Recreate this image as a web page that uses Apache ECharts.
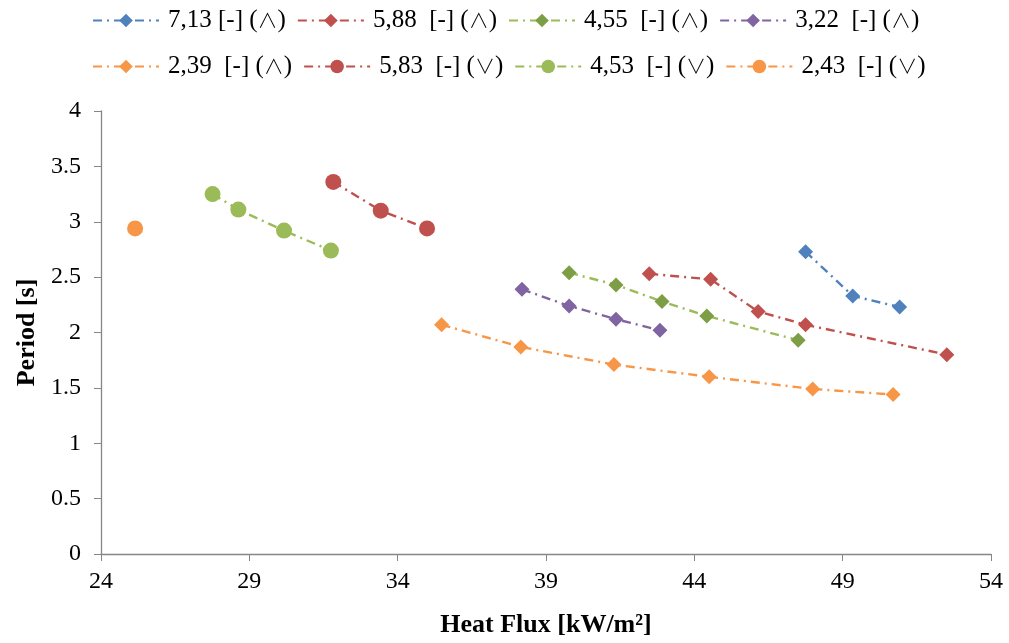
<!DOCTYPE html>
<html>
<head>
<meta charset="utf-8">
<script src="https://cdn.jsdelivr.net/npm/echarts@6/dist/echarts.min.js"></script>
<style>
html, body { margin: 0; padding: 0; background: #fff; }
#chart { width: 1009px; height: 643px; }
</style>
</head>
<body>
<div id="chart"></div>
<script>
// legend names
const names = [
    '7,13 [-] (\u2227)', '5,88  [-] (\u2227)', '4,55  [-] (\u2227)', '3,22  [-] (\u2227)',
    '2,39  [-] (\u2227)', '5,83  [-] (\u2228)', '4,53  [-] (\u2228)', '2,43  [-] (\u2228)'
];

// heat flux [kW/m2] / period [s]
const flux_713 = [47.75, 49.34, 50.92];
const period_713 = [2.73, 2.33, 2.23];

const flux_588 = [42.48, 44.55, 46.15, 47.75, 52.51];
const period_588 = [2.53, 2.48, 2.19, 2.07, 1.80];

const flux_455 = [39.78, 41.36, 42.91, 44.42, 47.50];
const period_455 = [2.54, 2.43, 2.28, 2.15, 1.93];

const flux_322 = [38.19, 39.78, 41.36, 42.84];
const period_322 = [2.39, 2.24, 2.12, 2.02];

const flux_239 = [35.48, 38.15, 41.29, 44.50, 47.99, 50.70];
const period_239 = [2.07, 1.87, 1.71, 1.60, 1.49, 1.44];

const flux_583 = [31.83, 33.43, 34.99];
const period_583 = [3.36, 3.10, 2.94];

const flux_453 = [27.76, 28.63, 30.17, 31.75];
const period_453 = [3.25, 3.11, 2.92, 2.74];

const flux_243 = [25.15];
const period_243 = [2.94];

const x_min = 24, x_max = 54, x_step = 5;
const y_min = 0, y_max = 4, y_step = 0.5;

const font = '"Liberation Serif", "DejaVu Serif", "Times New Roman", serif';
const symFont = '"Noto Sans CJK JP", "DejaVu Sans", sans-serif';
const dash = [9, 5, 2, 5];

const defs = [
    { x: flux_713, y: period_713, symbol: 'diamond', mark: '#4F81BD', line: '#4F81BD' },
    { x: flux_588, y: period_588, symbol: 'diamond', mark: '#C0504D', line: '#C0504D' },
    { x: flux_455, y: period_455, symbol: 'diamond', mark: '#7E9E46', line: '#9BBB59' },
    { x: flux_322, y: period_322, symbol: 'diamond', mark: '#8064A2', line: '#8064A2' },
    { x: flux_239, y: period_239, symbol: 'diamond', mark: '#F79646', line: '#F79646' },
    { x: flux_583, y: period_583, symbol: 'circle', mark: '#C0504D', line: '#C0504D' },
    { x: flux_453, y: period_453, symbol: 'circle', mark: '#9BBB59', line: '#9BBB59' },
    { x: flux_243, y: period_243, symbol: 'circle', mark: '#F79646', line: '#F79646' }
];

const series = defs.map((d, i) => ({
    name: names[i],
    type: 'line',
    data: d.x.map((v, k) => [v, d.y[k]]),
    symbol: d.symbol,
    symbolSize: d.symbol === 'circle' ? 16 : 15,
    itemStyle: { color: d.mark },
    lineStyle: { color: d.line, width: 2.4, type: dash },
    animation: false
}));

// split "(∧)" so the wedge can use a thinner font
const legendFormatter = function (name) {
    const k = name.lastIndexOf('(');
    const sym = name.charAt(k + 1);
    return '{t|' + name.slice(0, k + 1) + '}{s|' + sym + '}{t|)}';
};

const legendBase = {
    left: 92,
    padding: 0,
    itemWidth: 66,
    itemHeight: 17,
    itemGap: 11,
    formatter: legendFormatter,
    textStyle: {
        fontFamily: font, fontSize: 25, color: '#000', padding: [0, 0, 0, 4],
        rich: {
            t: { fontFamily: font, fontSize: 25, color: '#000' },
            s: { fontFamily: symFont, fontSize: 20, fontWeight: 300, color: '#000' }
        }
    }
};

const chart = echarts.init(document.getElementById('chart'));
chart.setOption({
    backgroundColor: '#fff',
    animation: false,
    legend: [
        Object.assign({}, legendBase, { top: 8, data: names.slice(0, 4) }),
        Object.assign({}, legendBase, { top: 54, data: names.slice(4) })
    ],
    grid: { left: 101, right: 18, top: 111, bottom: 88 },
    xAxis: {
        type: 'value',
        min: x_min, max: x_max, interval: x_step,
        name: 'Heat Flux [kW/m\u00B2]',
        nameLocation: 'middle',
        nameGap: 58,
        nameTextStyle: { fontFamily: font, fontSize: 26, fontWeight: 'bold', color: '#000' },
        axisLine: { lineStyle: { color: '#868686', width: 1.3 } },
        axisTick: { inside: false, length: 7, lineStyle: { color: '#868686' } },
        axisLabel: { fontFamily: font, fontSize: 24, color: '#000', margin: 16 },
        splitLine: { show: false }
    },
    yAxis: {
        type: 'value',
        min: y_min, max: y_max, interval: y_step,
        name: 'Period [s]',
        nameLocation: 'middle',
        nameGap: 58,
        nameTextStyle: { fontFamily: font, fontSize: 26, fontWeight: 'bold', color: '#000' },
        axisLine: { show: true, lineStyle: { color: '#868686', width: 1.3 } },
        axisTick: { show: true, inside: false, length: 7, lineStyle: { color: '#868686' } },
        axisLabel: { fontFamily: font, fontSize: 24, color: '#000', margin: 20 },
        splitLine: { show: false }
    },
    series: series
});
</script>
</body>
</html>
